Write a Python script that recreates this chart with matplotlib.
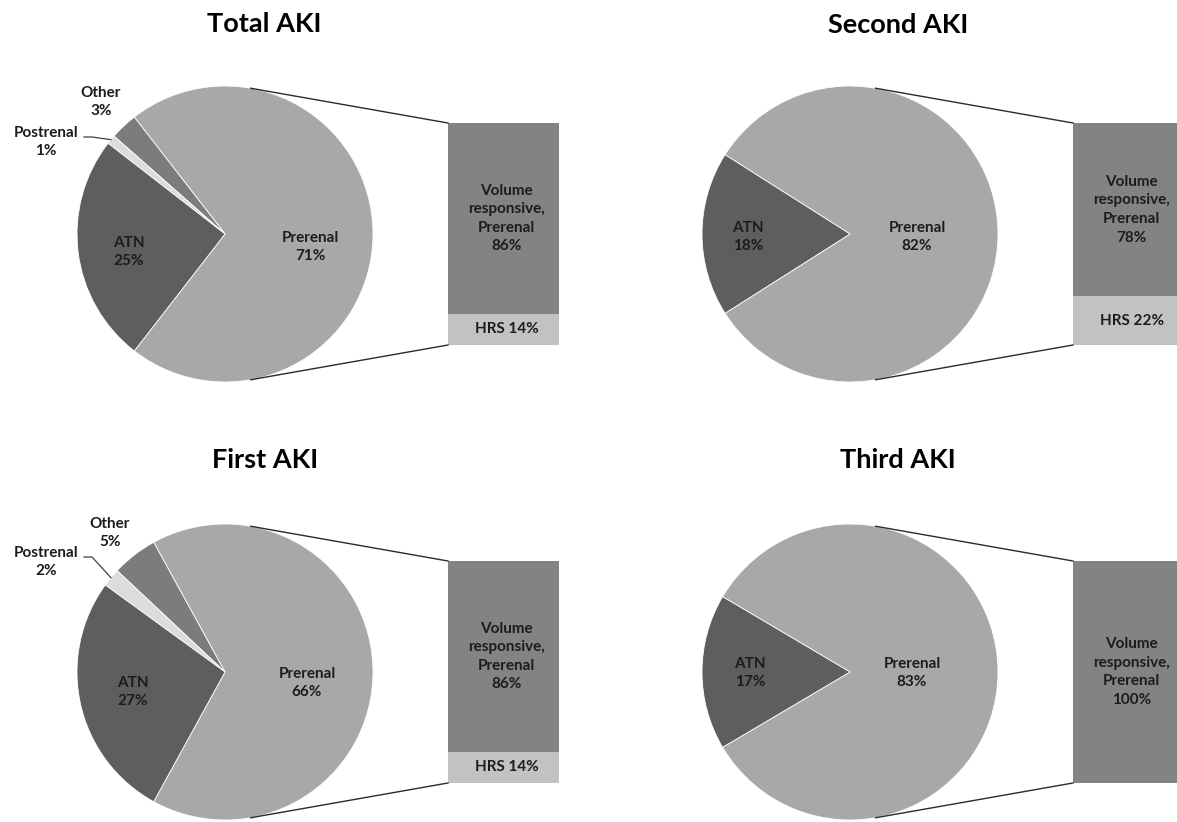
import numpy as np
import matplotlib
matplotlib.use("Agg")
import matplotlib.pyplot as plt

# ---------------- data ----------------
titles = ["Total AKI", "Second AKI", "First AKI", "Third AKI"]

total_causes = ["Prerenal", "Other", "Postrenal", "ATN"]
total_pct = [71, 3, 1, 25]
second_causes = ["Prerenal", "ATN"]
second_pct = [82, 18]
first_causes = ["Prerenal", "Other", "Postrenal", "ATN"]
first_pct = [66, 5, 2, 27]
third_causes = ["Prerenal", "ATN"]
third_pct = [83, 17]

prerenal_types = ["Volume\nresponsive,\nPrerenal", "HRS"]
total_prerenal_pct = [86, 14]
second_prerenal_pct = [78, 22]
first_prerenal_pct = [86, 14]
third_prerenal_pct = [100, 0]

# ---------------- style ----------------
cause_colors = {"Prerenal": "#a8a8a8", "ATN": "#5e5e5e",
                "Other": "#7c7c7c", "Postrenal": "#dcdcdc"}
type_colors = {"Volume\nresponsive,\nPrerenal": "#838383", "HRS": "#c2c2c2"}
TEXT = "#1c1c1c"
LABEL_SIZE = 11
LABEL_SPACING = 1.42

plt.rcParams["font.family"] = ["Lato", "DejaVu Sans"]

W, H = 1177, 822
fig = plt.figure(figsize=(W / 100, H / 100), dpi=100)
fig.patch.set_facecolor("white")

R = 148
BAR_W, BAR_H = 111, 222

# panel layout in pixels: pie centre, bar top-left, title anchor, label anchors
panels = [
    dict(title=titles[0], causes=total_causes, pct=total_pct, sub=total_prerenal_pct,
         center=(225, 234), bar=(448, 123), title_xy=(264, 32),
         labels={"Prerenal": (310, 247), "ATN": (129, 252),
                 "Other": (101, 102), "Postrenal": (46, 142)}),
    dict(title=titles[1], causes=second_causes, pct=second_pct, sub=second_prerenal_pct,
         center=(850, 234), bar=(1073, 123), title_xy=(898, 33),
         labels={"Prerenal": (917, 237), "ATN": (748, 237)}),
    dict(title=titles[2], causes=first_causes, pct=first_pct, sub=first_prerenal_pct,
         center=(225, 672), bar=(448, 561), title_xy=(265, 468),
         labels={"Prerenal": (307, 683), "ATN": (133, 692),
                 "Other": (110, 533), "Postrenal": (46, 562)}),
    dict(title=titles[3], causes=third_causes, pct=third_pct, sub=third_prerenal_pct,
         center=(850, 672), bar=(1073, 561), title_xy=(898, 468),
         labels={"Prerenal": (912, 673), "ATN": (750, 673)}),
]


def px_axes(x, y, w, h, **kw):
    return fig.add_axes([x / W, 1 - (y + h) / H, w / W, h / H], **kw)


# overlay in pixel coordinates for titles, labels and connector lines
ov = px_axes(0, 0, W, H, zorder=5)
ov.set_xlim(0, W)
ov.set_ylim(H, 0)
ov.axis("off")
ov.patch.set_alpha(0)


def tangent_point(center, r, p, upper):
    cx, cy = center[0], -center[1]
    px, py = p[0], -p[1]
    d = np.hypot(px - cx, py - cy)
    phi = np.arctan2(py - cy, px - cx)
    a = np.arccos(r / d)
    t = phi + a if upper else phi - a
    return cx + r * np.cos(t), -(cy + r * np.sin(t))


for pn in panels:
    cx, cy = pn["center"]
    pad = 1.03
    ax = px_axes(cx - R * pad, cy - R * pad, 2 * R * pad, 2 * R * pad)
    total = sum(pn["pct"])
    start = -pn["pct"][0] / total * 180.0
    wedges, _ = ax.pie(pn["pct"], colors=[cause_colors[c] for c in pn["causes"]],
                       startangle=start, counterclock=True, radius=1,
                       wedgeprops=dict(edgecolor="white", linewidth=0.6))
    ax.set_xlim(-pad, pad)
    ax.set_ylim(-pad, pad)
    ax.set_aspect("auto")
    ax.axis("off")

    # slice labels
    for w, cause, v in zip(wedges, pn["causes"], pn["pct"]):
        lx, ly = pn["labels"][cause]
        ov.text(lx, ly, f"{cause}\n{v}%", ha="center", va="center",
                fontsize=LABEL_SIZE, fontweight="bold", color=TEXT,
                linespacing=LABEL_SPACING)
        if cause == "Postrenal":
            mid = np.deg2rad((w.theta1 + w.theta2) / 2)
            ex, ey = cx + R * np.cos(mid), cy - R * np.sin(mid)
            sx, sy = lx + 38, ly - 5
            ov.plot([sx, sx + 8, ex], [sy, sy, ey], color="#404040", lw=0.9)

    # breakdown bar of the prerenal slice
    bx, by = pn["bar"]
    bax = px_axes(bx, by, BAR_W, BAR_H)
    bax.set_xlim(-0.5, 0.5)
    bax.set_ylim(0, 100)
    bax.axis("off")
    bottom = 0
    for name, v in reversed(list(zip(prerenal_types, pn["sub"]))):
        if v <= 0:
            continue
        bax.bar(0, v, width=1.0, bottom=bottom, color=type_colors[name], linewidth=0)
        label = f"{name} {v}%" if "\n" not in name else f"{name}\n{v}%"
        bax.text(0.03, bottom + v / 2, label, ha="center", va="center",
                 fontsize=LABEL_SIZE, fontweight="bold", color=TEXT,
                 linespacing=LABEL_SPACING)
        bottom += v

    # connector lines from the pie to the bar corners
    top = tangent_point((cx, cy), R, (bx, by), True)
    bot = tangent_point((cx, cy), R, (bx, by + BAR_H), False)
    ov.plot([top[0], bx], [top[1], by], color="#2a2a2a", lw=1.0)
    ov.plot([bot[0], bx], [bot[1], by + BAR_H], color="#2a2a2a", lw=1.0)

    # panel title
    tx, ty = pn["title_xy"]
    ov.text(tx, ty, pn["title"], ha="center", va="baseline", fontsize=19.5,
            fontweight="bold", color="black")

fig.savefig("out.png", dpi=100, facecolor="white")
